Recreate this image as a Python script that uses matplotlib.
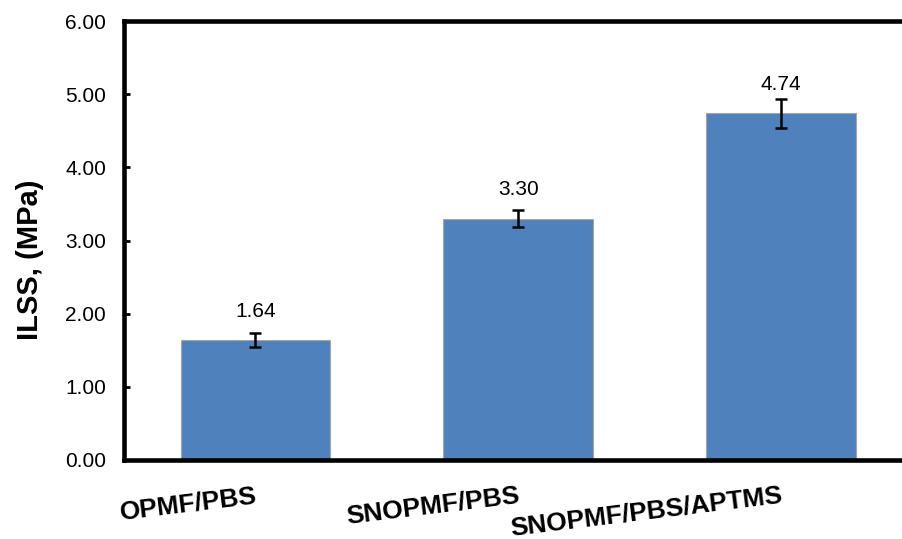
### bar chart of interlaminar shear strength for the three composites

# importing libraries
import numpy as np
import matplotlib.pyplot as plt

plt.rcParams['font.family'] = ['Liberation Sans', 'DejaVu Sans']

# data
samples = ['OPMF/PBS', 'SNOPMF/PBS', 'SNOPMF/PBS/APTMS']
ilss = [1.64, 3.30, 4.74]
ilss_err = [0.09, 0.12, 0.20]
value_labels = ['1.64', '3.30', '4.74']
y_ticks = [0, 1, 2, 3, 4, 5, 6]

x = np.arange(len(samples))

fig = plt.figure(figsize=(9.02, 5.39), dpi=100)
ax = fig.add_axes([0.1375, 0.1466, 0.874, 0.8144])

# bars with error bars
ax.bar(x, ilss, width=0.57, color='#4F81BD', edgecolor='#A6A6A6', linewidth=0.8, zorder=2)
ax.errorbar(x, ilss, yerr=ilss_err, fmt='none', ecolor='black', elinewidth=1.8,
            capsize=4.3, capthick=1.8, zorder=3)

# value labels above bars
for i in range(len(x)):
    ax.annotate(value_labels[i], (x[i], ilss[i]), xytext=(0, 14), textcoords='offset points',
                ha='center', va='bottom', fontsize=15)

# axes
ax.set_xlim(-0.5, 2.5)
ax.set_ylim(0, 6)
ax.set_yticks(y_ticks)
ax.set_yticklabels(['%.2f' % t for t in y_ticks], fontsize=15)
ax.set_xticks(x)
ax.set_xticklabels(samples, fontsize=19, fontweight='bold', rotation=7,
                   ha='right', va='top', rotation_mode='anchor')
ax.tick_params(axis='y', direction='in', length=4, width=2, pad=13)
ax.tick_params(axis='x', direction='in', length=4, width=2, pad=17)

ax.spines['right'].set_visible(False)
for side in ['left', 'top', 'bottom']:
    ax.spines[side].set_linewidth(3.3)

fig.text(30 / 902, 1 - 260 / 539, 'ILSS, (MPa)', rotation=90, ha='center', va='center',
         fontsize=21, fontweight='bold')

plt.savefig('out.png', dpi=100)
